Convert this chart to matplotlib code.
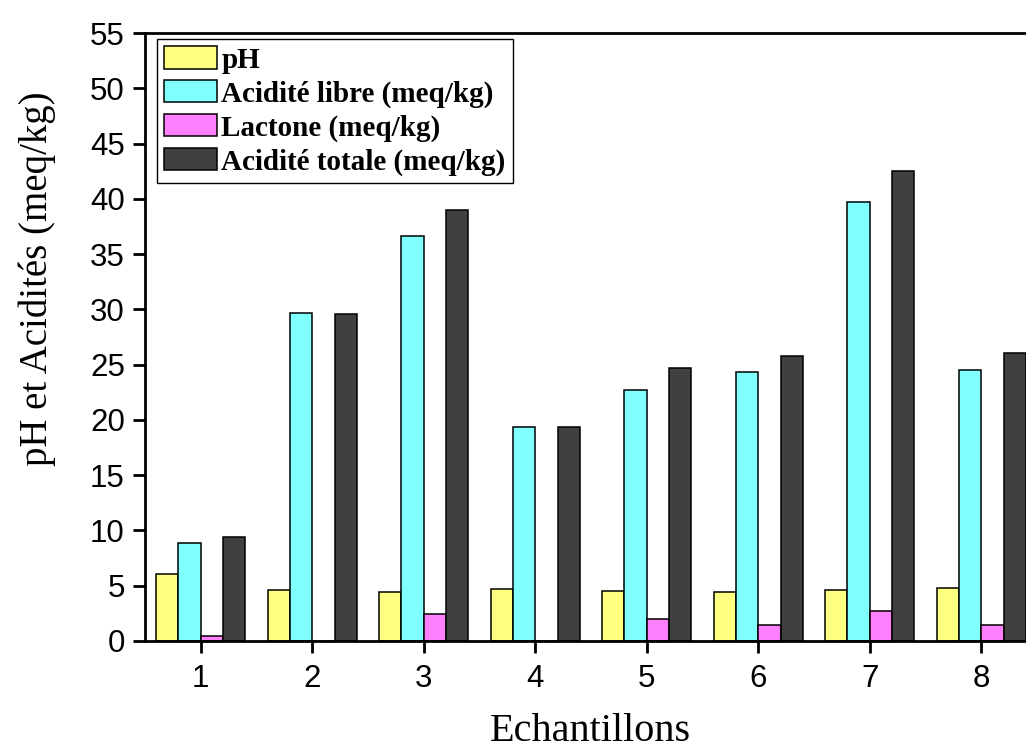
import numpy as np
import matplotlib
matplotlib.use('Agg')
import matplotlib.pyplot as plt

echantillons = [1, 2, 3, 4, 5, 6, 7, 8]
ph = [6.1, 4.6, 4.4, 4.7, 4.5, 4.4, 4.6, 4.8]
acidite_libre = [8.9, 29.7, 36.6, 19.4, 22.7, 24.3, 39.7, 24.5]
lactone = [0.45, 0.0, 2.4, 0.0, 1.95, 1.45, 2.7, 1.45]
acidite_totale = [9.4, 29.6, 39.0, 19.4, 24.7, 25.8, 42.5, 26.05]

series = [
    (ph, 'pH', '#FFFF80'),
    (acidite_libre, 'Acidité libre (meq/kg)', '#80FFFF'),
    (lactone, 'Lactone (meq/kg)', '#FF80FF'),
    (acidite_totale, 'Acidité totale (meq/kg)', '#404040'),
]

fig = plt.figure(figsize=(10.26, 7.49), dpi=100)
ax = fig.add_axes([145 / 1026, 1 - 641 / 749, (1037 - 145) / 1026, (641 - 33) / 749])

x = np.array(echantillons)
w = 0.2
offsets = [-1.5 * w, -0.5 * w, 0.5 * w, 1.5 * w]
for (vals, lab, col), off in zip(series, offsets):
    ax.bar(x + off, vals, width=w, color=col, edgecolor='black', linewidth=1.1, label=lab)

ax.set_xlim(0.5, 8.5)
ax.set_ylim(0, 55)
ax.set_xticks(echantillons)
ax.set_yticks(range(0, 56, 5))

for s in ['left', 'top', 'bottom', 'right']:
    ax.spines[s].set_linewidth(2.0)

ax.tick_params(axis='both', direction='out', length=8.5, width=2.0, top=False, right=False)
ax.tick_params(axis='y', pad=6)
ax.tick_params(axis='x', pad=8)
for t in ax.get_xticklabels() + ax.get_yticklabels():
    t.set_family('Liberation Sans')
    t.set_fontsize(22.5)

fig.text(37 / 1026, 1 - 279 / 749, 'pH et Acidités (meq/kg)', rotation=90,
         ha='center', va='center', family='Liberation Serif', fontsize=28)
fig.text(590 / 1026, 1 - 741 / 749, 'Echantillons', ha='center', va='baseline',
         family='Liberation Serif', fontsize=29)

leg = ax.legend(loc='upper left', bbox_to_anchor=(157 / 1026, 1 - 39 / 749),
                bbox_transform=fig.transFigure, fancybox=False, framealpha=1,
                edgecolor='black', borderpad=0.25, handlelength=1.8, handleheight=0.8,
                handletextpad=0.15, labelspacing=0.22, borderaxespad=0,
                prop={'family': 'Liberation Serif', 'weight': 'bold', 'size': 21})
leg.get_frame().set_linewidth(1.0)

fig.savefig('out.png', dpi=100)
